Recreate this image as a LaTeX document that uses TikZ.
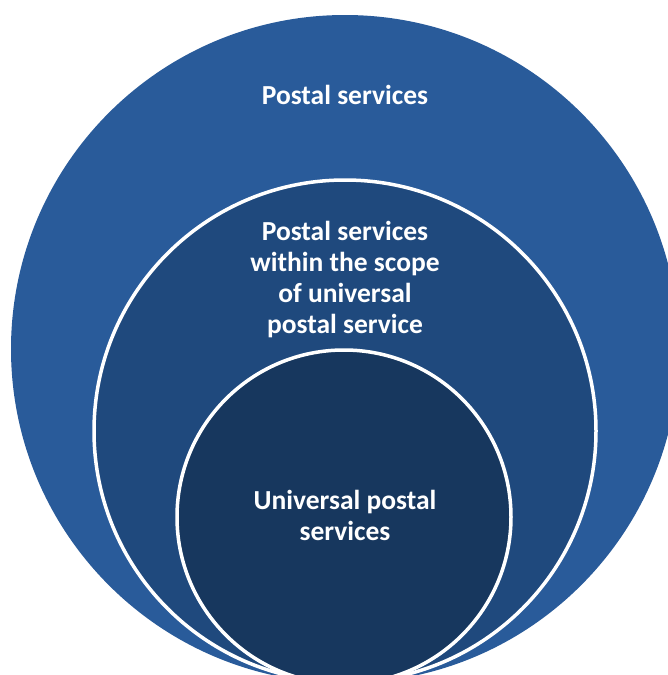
\documentclass[tikz,border=0pt]{standalone}
\usepackage{fontspec}
\setmainfont{Carlito}
\definecolor{outerblue}{RGB}{41,91,154}
\definecolor{midblue}{RGB}{31,73,125}
\definecolor{innerblue}{RGB}{23,55,94}
\begin{document}
\begin{tikzpicture}[x=1pt,y=-1pt,
  ring/.style={draw=white,line width=3.5pt},
  lbl/.style={text=white,font=\bfseries\fontsize{27.5}{31}\selectfont,align=center,inner sep=0pt}]
\useasboundingbox (0,0) rectangle (668,675);
\clip (0,0) rectangle (668,675);
\fill[outerblue] (345,349) circle[radius=334];
\filldraw[ring,fill=midblue] (345,431) circle[radius=251];
\filldraw[ring,fill=innerblue] (344,517) circle[radius=167];
\node[lbl] (outer) at (345,95) {Postal services};
\node[lbl] (mid) at (345,280) {Postal services\\within the scope\\of universal\\postal service};
\node[lbl] (inner) at (345,515) {Universal postal\\services};
\end{tikzpicture}
\end{document}
